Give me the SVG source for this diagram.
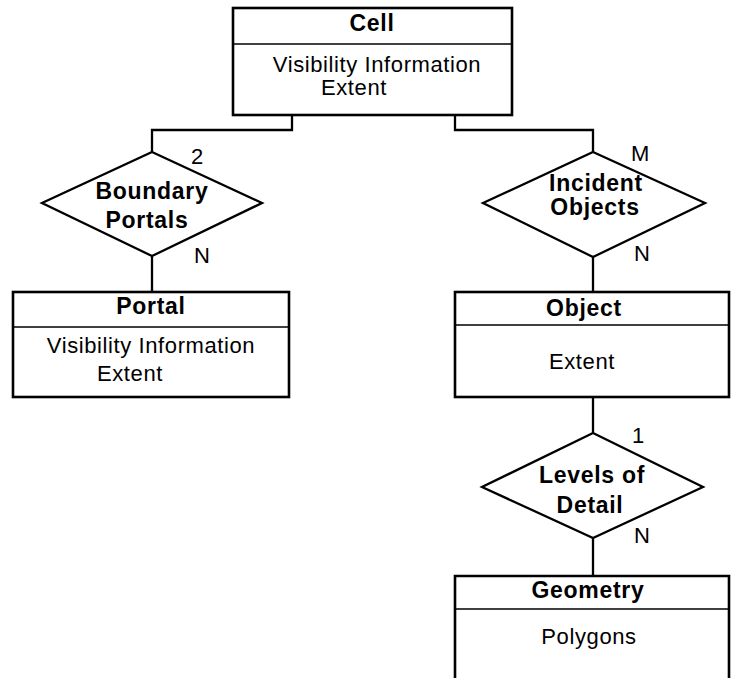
<svg xmlns="http://www.w3.org/2000/svg" width="738" height="678" viewBox="0 0 738 678">
<style>
.box{fill:#fff;stroke:#000;stroke-width:2.6}
.div{stroke:#000;stroke-width:1.6}
.dia{fill:#fff;stroke:#000;stroke-width:2.3;stroke-linejoin:miter}
.con{fill:none;stroke:#000;stroke-width:2.3}
.t{font-family:"Liberation Sans",Arial,sans-serif;font-weight:bold;font-size:23px;letter-spacing:0.7px;text-anchor:middle}
.a{font-family:"Liberation Sans",Arial,sans-serif;font-size:22px;letter-spacing:0.6px;text-anchor:middle}
.c{font-family:"Liberation Sans",Arial,sans-serif;font-size:22px}
</style>
<rect width="738" height="678" fill="#fff"/>
<g id="connectors">
<path class="con" d="M292,115 V130 H152 V152"/>
<path class="con" d="M455,115 V130 H593 V152"/>
<path class="con" d="M152,256 V292"/>
<path class="con" d="M593,257 V292"/>
<path class="con" d="M593,397 V433"/>
<path class="con" d="M593,538 V576"/>
</g>
<g id="cell">
<rect class="box" x="233" y="8" width="279" height="107"/>
<line class="div" x1="233" y1="44" x2="512" y2="44"/>
<text class="t" x="372" y="31">Cell</text>
<text class="a" x="377" y="72">Visibility Information</text>
<text class="a" x="354" y="95">Extent</text>
</g>
<g id="boundary-portals">
<polygon class="dia" points="152,152 262,203 152,256 42,203"/>
<text class="t" x="152" y="199">Boundary</text>
<text class="t" x="147" y="228">Portals</text>
<text class="c" x="191" y="164">2</text>
<text class="c" x="194" y="263">N</text>
</g>
<g id="incident-objects">
<polygon class="dia" points="593,152 705,203 593,257 483,203"/>
<text class="t" x="596" y="191">Incident</text>
<text class="t" x="595" y="215">Objects</text>
<text class="c" x="631" y="161">M</text>
<text class="c" x="634" y="261">N</text>
</g>
<g id="portal">
<rect class="box" x="13" y="292" width="276" height="105"/>
<line class="div" x1="13" y1="327" x2="289" y2="327"/>
<text class="t" x="151" y="314">Portal</text>
<text class="a" x="151" y="353">Visibility Information</text>
<text class="a" x="130" y="381">Extent</text>
</g>
<g id="object">
<rect class="box" x="455" y="292" width="274" height="105"/>
<line class="div" x1="455" y1="325" x2="729" y2="325"/>
<text class="t" x="584" y="316">Object</text>
<text class="a" x="582" y="369">Extent</text>
</g>
<g id="levels-of-detail">
<polygon class="dia" points="593,433 703,487 593,538 482,487"/>
<text class="t" x="592" y="483">Levels of</text>
<text class="t" x="590" y="513">Detail</text>
<text class="c" x="632" y="443">1</text>
<text class="c" x="634" y="543">N</text>
</g>
<g id="geometry">
<path class="box" d="M455,690 V576 H729 V690"/>
<line class="div" x1="455" y1="609" x2="729" y2="609"/>
<text class="t" x="588" y="598">Geometry</text>
<text class="a" x="589" y="644">Polygons</text>
</g>
</svg>
